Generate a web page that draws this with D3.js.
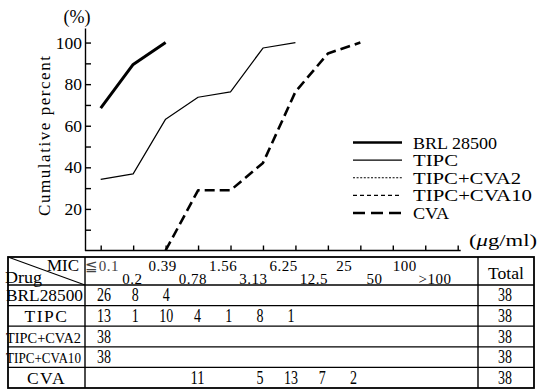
<!DOCTYPE html>
<html>
<head>
<meta charset="utf-8">
<script src="https://cdn.jsdelivr.net/npm/d3@7"></script>
<style>
  html, body { margin: 0; padding: 0; background: #fff; }
  svg { display: block; }
  svg text { font-family: "Liberation Serif", "Times New Roman", serif; fill: #000; }
</style>
</head>
<body>
<script>
// MIC categories (µg/ml) shared by the chart's x axis and the table columns
const micLabels = ["≦0.1", "0.2", "0.39", "0.78", "1.56", "3.13", "6.25", "12.5", "25", "50", "100", ">100"];

// Number of strains inhibited at each MIC
const brlCounts   = [26, 8, 4, 0, 0, 0, 0, 0, 0, 0, 0, 0];
const tipcCounts  = [13, 1, 10, 4, 1, 8, 1, 0, 0, 0, 0, 0];
const cva2Counts  = [38, 0, 0, 0, 0, 0, 0, 0, 0, 0, 0, 0];
const cva10Counts = [38, 0, 0, 0, 0, 0, 0, 0, 0, 0, 0, 0];
const cvaCounts   = [0, 0, 0, 11, 0, 5, 13, 7, 2, 0, 0, 0];

const tableNames  = ["BRL28500", "TIPC", "TIPC+CVA2", "TIPC+CVA10", "CVA"];
const legendNames = ["BRL 28500", "TIPC", "TIPC+CVA2", "TIPC+CVA10", "CVA"];
const totals      = [38, 38, 38, 38, 38];

const yMajorTicks = [20, 40, 60, 80, 100];
const yMinorTicks = [10, 30, 50, 70, 90];

const countRows = [brlCounts, tipcCounts, cva2Counts, cva10Counts, cvaCounts];

// line style for each drug
const styles = [
  { width: 3.0, dash: null },
  { width: 1.2, dash: null },
  { width: 1.2, dash: "2,1.6" },
  { width: 1.1, dash: "4,3" },
  { width: 2.6, dash: "10,5" }
];

const W = 540, H = 392;
const svg = d3.select("body").append("svg").attr("width", W).attr("height", H);

const x = d3.scalePoint().domain(micLabels).range([100.7, 457.7]);
const y = d3.scaleLinear().domain([0, 107]).range([250.5, 28]);
const axisX0 = 85;

// cumulative percent curve, starting one step before the first strain
function cumulative(counts, total) {
  const first = counts.findIndex(c => c > 0);
  const start = Math.max(first - 1, 0);
  const pts = [];
  let run = 0;
  for (let i = 0; i < counts.length; i++) {
    run += counts[i];
    if (i < start) continue;
    pts.push({ k: micLabels[i], v: run / total * 100 });
    if (run >= total) break;
  }
  return pts;
}

// ---- axes ----
const yAxis = svg.append("g").attr("transform", `translate(${axisX0},0)`)
  .call(d3.axisLeft(y).tickValues(yMajorTicks).tickSize(-6).tickSizeOuter(0).tickPadding(3));
yAxis.attr("font-family", null).attr("font-size", null);
yAxis.selectAll("text").attr("font-size", 17.5).attr("fill", "#000");
yAxis.selectAll("line, path").attr("stroke", "#000").attr("stroke-width", 1.4);

const yMinor = svg.append("g").attr("transform", `translate(${axisX0},0)`)
  .call(d3.axisLeft(y).tickValues(yMinorTicks).tickSize(-6).tickFormat(""));
yMinor.select(".domain").remove();
yMinor.selectAll("line").attr("stroke", "#000").attr("stroke-width", 1.4);

const xAxis = svg.append("g").attr("transform", `translate(0,${y(0)})`)
  .call(d3.axisBottom(x).tickSize(-5).tickFormat(""));
xAxis.select(".domain").remove();
xAxis.selectAll("line").attr("stroke", "#000").attr("stroke-width", 1.4);
svg.append("line")
  .attr("x1", axisX0).attr("x2", x.range()[1] + 3)
  .attr("y1", y(0)).attr("y2", y(0))
  .attr("stroke", "#000").attr("stroke-width", 1.5);

svg.append("text").attr("x", 77).attr("y", 23).attr("text-anchor", "middle")
  .attr("font-size", 18).text("(%)");

svg.append("text")
  .attr("transform", "translate(50,136) rotate(-90)")
  .attr("text-anchor", "middle").attr("font-size", 17)
  .attr("textLength", 160).attr("lengthAdjust", "spacing")
  .text("Cumulative percent");

svg.append("text").attr("x", 537).attr("y", 246).attr("text-anchor", "end")
  .attr("font-size", 17)
  .attr("textLength", 68).attr("lengthAdjust", "spacingAndGlyphs")
  .html('(<tspan font-style="italic">μ</tspan>g/ml)');

// ---- curves ----
const line = d3.line().x(d => x(d.k)).y(d => y(d.v));
countRows.forEach((counts, i) => {
  const pts = cumulative(counts, totals[i]);
  if (pts.length < 2) return;
  svg.append("path").datum(pts)
    .attr("d", line)
    .attr("fill", "none")
    .attr("stroke", "#000")
    .attr("stroke-width", styles[i].width)
    .attr("stroke-dasharray", styles[i].dash)
    .attr("stroke-linejoin", "round");
});

// ---- legend ----
const legendY = d3.scalePoint().domain(legendNames).range([142.5, 213]);
const legendWidths = [84, 45, 108, 119, 36];
const lg = svg.append("g");
legendNames.forEach((name, i) => {
  lg.append("line")
    .attr("x1", 353).attr("x2", 402)
    .attr("y1", legendY(name)).attr("y2", legendY(name))
    .attr("stroke", "#000")
    .attr("stroke-width", i === 4 || i === 0 ? 2.6 : styles[i].width)
    .attr("stroke-dasharray", i === 4 ? "12,6" : styles[i].dash);
  lg.append("text")
    .attr("x", 413).attr("y", legendY(name) + 6)
    .attr("font-size", 17)
    .attr("textLength", legendWidths[i]).attr("lengthAdjust", "spacingAndGlyphs")
    .text(name);
});

// ---- table ----
const tLeft = 8, tDrugRight = 85, tTotalLeft = 478, tRight = 534;
const tTop = 257, tHeadBottom = 285, tBottom = 388;
const rowY = d3.scaleBand().domain(tableNames).range([tHeadBottom, tBottom]);
const colX = d3.scalePoint().domain(micLabels).range([104, 447]);
const hdrX = d3.scalePoint().domain(micLabels).range([102, 435]);

const tg = svg.append("g").attr("stroke", "#000");
// outer frame
tg.append("rect").attr("x", tLeft).attr("y", tTop)
  .attr("width", tRight - tLeft).attr("height", tBottom - tTop)
  .attr("fill", "none").attr("stroke-width", 1.8);
// column rules
[tDrugRight, tTotalLeft].forEach(cx => {
  tg.append("line").attr("x1", cx).attr("x2", cx).attr("y1", tTop).attr("y2", tBottom)
    .attr("stroke-width", 1.4);
});
// row rules
tableNames.forEach(n => {
  tg.append("line").attr("x1", tLeft).attr("x2", tRight)
    .attr("y1", rowY(n)).attr("y2", rowY(n)).attr("stroke-width", 1.3);
});
// diagonal in the corner cell
tg.append("line").attr("x1", tLeft).attr("y1", tTop).attr("x2", tDrugRight).attr("y2", tHeadBottom)
  .attr("stroke-width", 1.1);

const txt = svg.append("g");
txt.append("text").attr("x", 79).attr("y", 271).attr("text-anchor", "end")
  .attr("font-size", 17).text("MIC");
txt.append("text").attr("x", 5).attr("y", 283)
  .attr("font-size", 17).attr("textLength", 37).attr("lengthAdjust", "spacingAndGlyphs").text("Drug");
txt.append("text").attr("x", (tTotalLeft + tRight) / 2).attr("y", 279).attr("text-anchor", "middle")
  .attr("font-size", 17).attr("textLength", 36).attr("lengthAdjust", "spacingAndGlyphs").text("Total");

micLabels.forEach((m, i) => {
  const top = i % 2 === 0;
  txt.append("text")
    .attr("x", hdrX(m)).attr("y", top ? 271 : 283.5)
    .attr("text-anchor", "middle")
    .attr("font-size", 15)
    .attr("letter-spacing", 0.5)
    .style("fill", i === 0 ? "#444" : "#000")
    .text(m);
});

const nameWidths = [77, 0, 75, 75, 0];
tableNames.forEach((n, r) => {
  const cy = rowY(n) + rowY.bandwidth() / 2 + 6;
  const t = txt.append("text").attr("y", cy).attr("font-size", r === 2 || r === 3 ? 14 : 17.5);
  if (nameWidths[r]) {
    t.attr("x", 6).attr("textLength", nameWidths[r]).attr("lengthAdjust", "spacingAndGlyphs");
  } else {
    t.attr("x", (tLeft + tDrugRight) / 2).attr("text-anchor", "middle").attr("letter-spacing", 1.5);
  }
  t.text(n);

  countRows[r].forEach((c, i) => {
    if (!c) return;
    const s = String(c);
    txt.append("text")
      .attr("x", colX(micLabels[i])).attr("y", cy)
      .attr("text-anchor", "middle").attr("font-size", 18)
      .attr("textLength", 7 * s.length).attr("lengthAdjust", "spacingAndGlyphs")
      .text(s);
  });

  txt.append("text")
    .attr("x", (tTotalLeft + tRight) / 2 - 1).attr("y", cy)
    .attr("text-anchor", "middle").attr("font-size", 18)
    .attr("textLength", 14).attr("lengthAdjust", "spacingAndGlyphs")
    .text(totals[r]);
});
</script>
</body>
</html>
